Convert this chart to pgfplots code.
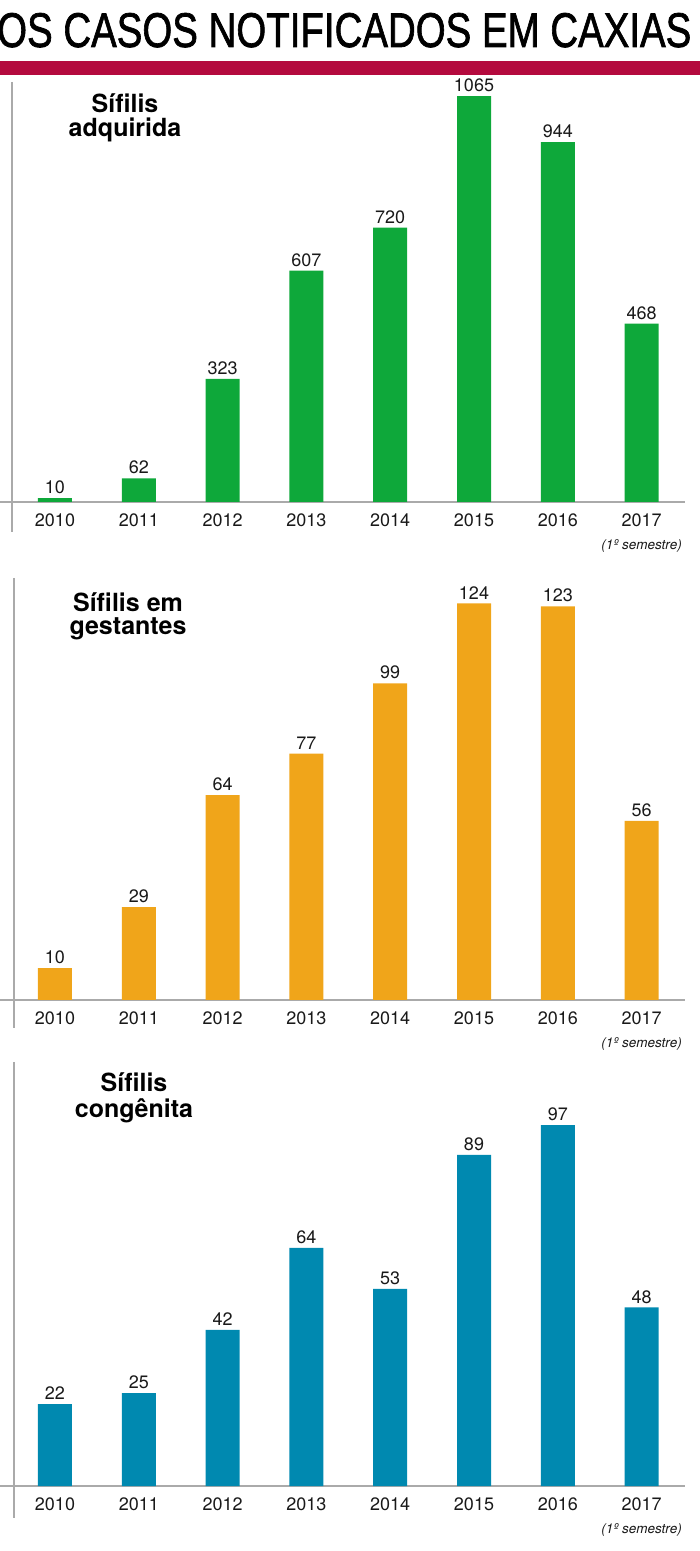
\documentclass[border=0pt]{standalone}
\usepackage{fontspec}
\setmainfont{TeX Gyre Heros}
\newfontface\titlefont{Liberation Sans}[FakeBold=1.6]
\usepackage{graphicx}
\usepackage{pgfplots}
\pgfplotsset{compat=1.18}
\definecolor{crimson}{RGB}{180,10,62}
\definecolor{cgreen}{RGB}{14,168,58}
\definecolor{corange}{RGB}{240,165,26}
\definecolor{cblue}{RGB}{0,137,176}
\definecolor{lgray}{RGB}{170,170,170}
\pgfplotsset{
 panel/.style={
  scale only axis, width=685pt, anchor=south west,
  xmin=-0.6563, xmax=7.518, ymin=0, enlargelimits=false,
  axis x line*=bottom, axis y line=none,
  x axis line style={draw=lgray, line width=2pt, -},
  xtick={0,...,7},
  xticklabels={2010,2011,2012,2013,2014,2015,2016,{2017\\[1pt]{\fontsize{13.5}{14}\selectfont\itshape(1º semestre)}}},
  major tick length=0pt,
  xticklabel style={font=\fontsize{18}{22}\selectfont, align=center, text=black!90, yshift=-8pt},
  ybar, bar width=34pt,
  nodes near coords,
  nodes near coords style={font=\fontsize{18}{18}\selectfont, inner sep=1pt, yshift=3pt, text=black!90},
  /pgf/number format/assume math mode=true, /pgf/number format/1000 sep={},
  clip=false,
 }
}
\begin{document}
\begin{tikzpicture}
\useasboundingbox (0pt,0pt) rectangle (700pt,1551pt);
\node[anchor=base west, inner sep=0pt] at (-3pt,1504pt) {\resizebox{694pt}{34pt}{\titlefont OS CASOS NOTIFICADOS EM CAXIAS}};
\fill[crimson] (0pt,1476pt) rectangle (700pt,1490pt);
% panel 1
\draw[lgray, line width=2pt] (11.5pt,1469pt) -- (11.5pt,1019pt);
\begin{axis}[panel, at={(0pt,1049pt)}, height=420pt, ymax=1101.8]
\addplot[fill=cgreen, draw=none] coordinates {(0,10) (1,62) (2,323) (3,607) (4,720) (5,1065) (6,944) (7,468)};
\end{axis}
\node[anchor=base, font=\fontsize{25}{25}\selectfont\bfseries] at (125pt,1438pt) {Sífilis};
\node[anchor=base, font=\fontsize{25}{25}\selectfont\bfseries] at (125pt,1414pt) {adquirida};
% panel 2
\draw[lgray, line width=2pt] (14pt,973pt) -- (14pt,523pt);
\begin{axis}[panel, at={(0pt,551pt)}, height=422pt, ymax=131.9]
\addplot[fill=corange, draw=none] coordinates {(0,10) (1,29) (2,64) (3,77) (4,99) (5,124) (6,123) (7,56)};
\end{axis}
\node[anchor=base, font=\fontsize{25}{25}\selectfont\bfseries] at (128pt,939pt) {Sífilis em};
\node[anchor=base, font=\fontsize{25}{25}\selectfont\bfseries] at (128pt,916pt) {gestantes};
% panel 3
\draw[lgray, line width=2pt] (14pt,489pt) -- (14pt,33pt);
\begin{axis}[panel, at={(0pt,65pt)}, height=424pt, ymax=114.0]
\addplot[fill=cblue, draw=none] coordinates {(0,22) (1,25) (2,42) (3,64) (4,53) (5,89) (6,97) (7,48)};
\end{axis}
\node[anchor=base, font=\fontsize{25}{25}\selectfont\bfseries] at (134pt,459pt) {Sífilis};
\node[anchor=base, font=\fontsize{25}{25}\selectfont\bfseries] at (134pt,433pt) {congênita};
\end{tikzpicture}
\end{document}
